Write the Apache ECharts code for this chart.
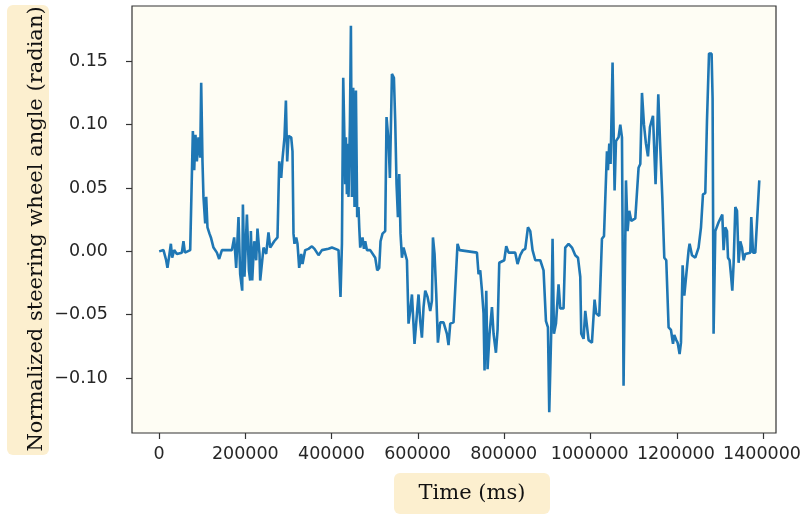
<!DOCTYPE html>
<html>
<head>
<meta charset="utf-8">
<script src="https://cdn.jsdelivr.net/npm/echarts@6/dist/echarts.min.js"></script>
<style>
html,body{margin:0;padding:0;background:#fff;}
#chart{width:804px;height:514px;}
</style>
</head>
<body>
<div id="chart"></div>
<script>
// ---- data ----
const timeMs = [
  0, 10000, 16200, 19200, 23900, 27100, 30100, 34800, 41000, 52600,
  56300, 59600, 71900, 78100, 81200, 84200, 87400, 91100, 95100, 97400,
  100400, 102700, 106700, 109000, 112000, 116600, 119900, 125900, 133800, 139100,
  145400, 168600, 173900, 178500, 183900, 187800, 192500, 194100, 197800, 203400,
  208000, 211000, 212600, 215700, 220300, 224900, 227900, 232600, 234200, 241900,
  248100, 253400, 257400, 266700, 274300,
  278300, 282900, 285900, 290500, 293800, 296800, 299800, 306100, 309100, 311400,
  313700, 317700, 320700, 324600, 329300, 332300, 338500, 346200, 354100, 360100,
  369400, 377300, 392600, 400500, 415800, 420400, 423700, 426700, 429700, 431300,
  432900, 435200, 437600, 439000, 442200, 444500, 446800, 449800, 452900, 456100,
  459100, 462100, 463800, 466100, 471400, 474700, 477700, 481600, 489300, 500900,
  505500, 510100, 513200, 517800, 524000, 527100, 531700, 534900, 539600, 544200,
  547200, 550300, 553500, 556500, 559500, 562800,
  566500, 570400, 574400, 578100, 582000, 586000, 592000, 597600, 601300, 605200,
  609100, 612900, 616800, 622200, 628400, 632300, 634700, 638400, 642300, 646200,
  651600, 659200, 667100, 670800, 674800, 682400, 686400, 691700, 696300, 736700,
  740400, 744300, 748300, 752000, 754300, 758300, 761300, 765900, 771500, 775200,
  780700, 784500, 788400, 800000, 804600, 810000, 825500, 830800, 837100, 843300,
  848700, 854900, 860300, 865600, 871900, 883500, 891100, 896700, 901300, 904300,
  909000, 912000, 915200, 919900, 925900, 929800, 937500, 941400, 949100, 957000,
  964600, 970900, 976200, 978500, 983900, 987800, 995500, 1003300, 1009400, 1013300,
  1020300, 1026500, 1031200, 1038100, 1040400, 1043500, 1046500, 1051100, 1055800, 1059000,
  1065000, 1069000, 1072900, 1076600, 1082200, 1085900, 1089800, 1094500, 1103800, 1111400,
  1115400, 1119300, 1123900, 1128500, 1133200, 1137800, 1144800, 1149400, 1150800, 1154100,
  1157100, 1161700, 1166400, 1171000, 1175600, 1181000, 1186500, 1191200, 1194200, 1198800,
  1201900, 1206500, 1209700, 1213500, 1217400, 1222000, 1227400, 1229700, 1235200, 1242900,
  1250500, 1256100, 1260700, 1266100, 1270000, 1274700, 1280700, 1283000, 1285300, 1289300,
  1293200, 1296900, 1300900, 1305500, 1308500, 1312400, 1316400, 1318700, 1322400, 1325700,
  1328700, 1331700, 1335700, 1339600, 1343300, 1347200, 1351200, 1354900, 1358800, 1370400,
  1372700, 1376700, 1382000, 1391300
];
const steeringAngle = [
  0.000, 0.001, -0.007, -0.013, -0.002, 0.006, -0.005, 0.001, -0.002, -0.001,
  0.008, -0.001, 0.001, 0.095, 0.064, 0.092, 0.071, 0.090, 0.074, 0.133,
  0.071, 0.043, 0.022, 0.043, 0.019, 0.014, 0.011, 0.003, -0.001, -0.006,
  0.001, 0.001, 0.011, -0.013, 0.027, -0.018, -0.031, 0.037, -0.020, 0.029,
  -0.015, -0.023, 0.016, -0.023, 0.008, -0.007, 0.018, -0.002, -0.023, 0.003,
  -0.002, 0.015, 0.003, 0.008, 0.011,
  0.071, 0.058, 0.073, 0.090, 0.119, 0.071, 0.091, 0.090, 0.079, 0.014,
  0.006, 0.011, 0.006, -0.013, -0.002, -0.010, 0.001, 0.002, 0.004, 0.002,
  -0.003, 0.001, 0.002, 0.003, 0.001, -0.036, 0.006, 0.137, 0.085, 0.053,
  0.090, 0.045, 0.085, 0.043, 0.100, 0.178, 0.043, 0.129, 0.035, 0.127,
  0.027, 0.035, 0.019, 0.003, 0.011, 0.002, 0.008, 0.001, 0.001, -0.005,
  -0.015, -0.013, 0.008, 0.014, 0.016, 0.106, 0.087, 0.058, 0.140, 0.137,
  0.103, 0.053, 0.027, 0.061, 0.014, -0.005,
  0.003, 0.004, -0.007, -0.057, -0.047, -0.034, -0.073, -0.049, -0.034, -0.055,
  -0.068, -0.044, -0.031, -0.036, -0.047, -0.039, 0.011, -0.002, -0.033, -0.072,
  -0.056, -0.056, -0.065, -0.074, -0.057, -0.056, -0.055, 0.006, 0.001, -0.001,
  -0.018, -0.015, -0.031, -0.049, -0.094, -0.031, -0.093, -0.065, -0.044, -0.065,
  -0.080, -0.062, -0.009, -0.007, 0.004, -0.001, -0.001, -0.010, -0.003, 0.001,
  0.002, 0.019, 0.016, 0.001, -0.007, -0.007, -0.015, -0.055, -0.060, -0.127,
  -0.062, 0.010, -0.065, -0.057, -0.026, -0.045, -0.045, 0.003, 0.006, 0.003,
  -0.003, -0.005, -0.020, -0.065, -0.069, -0.047, -0.070, -0.072, -0.038, -0.049,
  -0.051, 0.010, 0.012, 0.079, 0.064, 0.085, 0.069, 0.149, 0.048, 0.087,
  0.090, 0.100, 0.090, -0.106, 0.056, 0.016, 0.032, 0.024, 0.026, 0.066,
  0.069, 0.125, 0.100, 0.085, 0.075, 0.098, 0.107, 0.106, 0.053, 0.087,
  0.124, 0.082, 0.043, -0.005, -0.007, -0.060, -0.062, -0.073, -0.066, -0.070,
  -0.072, -0.081, -0.072, -0.011, -0.035, -0.035, 0.001, 0.006, -0.003, -0.005,
  0.003, 0.019, 0.045, 0.046, 0.103, 0.156, 0.156, 0.121, -0.065, 0.016,
  0.016, 0.023, 0.024, 0.029, 0.001, 0.019, 0.016, -0.005, -0.007, -0.019,
  -0.031, -0.010, 0.035, 0.032, -0.009, 0.008, 0.003, -0.007, -0.002, -0.001,
  0.027, -0.001, -0.001, 0.056
];
const xTicks = [0, 200000, 400000, 600000, 800000, 1000000, 1200000, 1400000];
const yTicks = [-0.10, -0.05, 0.00, 0.05, 0.10, 0.15];
const xRange = [-63000, 1430000];
const yRange = [-0.1433, 0.1936];
const yTitle = 'Normalized steering wheel angle (radian)';
const xTitle = 'Time (ms)';

const seriesData = timeMs.map((t, i) => [t, steeringAngle[i]]);

// plot frame (pixels inside the 804x514 canvas)
const CW = 804, CH = 514, TICK = 6;
const G = {left: 132, right: 28, top: 6, bottom: 81};
const W = CW - G.left - G.right, H = CH - G.top - G.bottom;
const xSpan = xRange[1] - xRange[0], ySpan = yRange[1] - yRange[0];
const xLast = xTicks[xTicks.length - 1], yLast = yTicks[yTicks.length - 1];
// helper grid whose extent is exactly the tick range (same scale as the data grid)
const G2 = {
  left: G.left + W * (xTicks[0] - xRange[0]) / xSpan,
  right: G.right + W * (xRange[1] - xLast) / xSpan,
  top: G.top + H * (yRange[1] - yLast) / ySpan,
  bottom: G.bottom + H * (yTicks[0] - yRange[0]) / ySpan
};
// thin bands just outside the frame where tick marks are drawn as split lines
const GX = {left: G2.left, right: G2.right, top: CH - G.bottom, bottom: G.bottom - TICK};
const GY = {left: G.left - TICK, right: CW - G.left, top: G2.top, bottom: G2.bottom};

const chart = echarts.init(document.getElementById('chart'), null, {renderer: 'canvas'});
const labelFont = {fontFamily: 'DejaVu Sans', fontSize: 17.5, color: '#262626'};
const tickLine = {show: true, showMinLine: true, showMaxLine: true, lineStyle: {color: '#333', width: 1.2}};
const hidden = {show: false};

chart.setOption({
  animation: false,
  backgroundColor: '#ffffff',
  grid: [
    Object.assign({show: true, backgroundColor: '#fefdf4', borderColor: '#333', borderWidth: 1.2}, G),
    Object.assign({show: false}, G2),
    Object.assign({show: false}, GX),
    Object.assign({show: false}, GY)
  ],
  xAxis: [
    {type: 'value', gridIndex: 0, min: xRange[0], max: xRange[1], show: false},
    {
      type: 'value', gridIndex: 1, min: xTicks[0], max: xLast, interval: xTicks[1] - xTicks[0],
      position: 'bottom', offset: G2.bottom - G.bottom,
      splitLine: hidden, axisLine: {show: false, onZero: false}, axisTick: hidden,
      axisLabel: Object.assign({margin: 12, formatter: v => String(v)}, labelFont)
    },
    {
      type: 'value', gridIndex: 2, min: xTicks[0], max: xLast, interval: xTicks[1] - xTicks[0],
      axisLine: {show: false, onZero: false}, axisTick: hidden, axisLabel: hidden, splitLine: tickLine
    },
    {type: 'value', gridIndex: 3, min: 0, max: 1, show: false}
  ],
  yAxis: [
    {type: 'value', gridIndex: 0, min: yRange[0], max: yRange[1], show: false},
    {
      type: 'value', gridIndex: 1, min: yTicks[0], max: yLast, interval: yTicks[1] - yTicks[0],
      position: 'left', offset: G2.left - G.left,
      splitLine: hidden, axisLine: {show: false, onZero: false}, axisTick: hidden,
      axisLabel: Object.assign({margin: 24,
        formatter: v => (v < -1e-9 ? '\u2212' : '') + Math.abs(v).toFixed(2)}, labelFont)
    },
    {type: 'value', gridIndex: 2, min: 0, max: 1, show: false},
    {
      type: 'value', gridIndex: 3, min: yTicks[0], max: yLast, interval: yTicks[1] - yTicks[0],
      axisLine: {show: false, onZero: false}, axisTick: hidden, axisLabel: hidden, splitLine: tickLine
    }
  ],
  series: [{
    type: 'line', xAxisIndex: 0, yAxisIndex: 0, data: seriesData,
    showSymbol: false, symbol: 'none',
    lineStyle: {color: '#1f77b4', width: 2.6}, itemStyle: {color: '#1f77b4'}
  }],
  graphic: [
    {type: 'rect', left: 7, top: 5, shape: {width: 42, height: 450, r: 6}, style: {fill: '#fcefcf'}},
    {type: 'text', x: 37, y: 229, rotation: Math.PI / 2,
      style: {text: yTitle, font: '21px "DejaVu Serif"', fill: '#111', align: 'center', verticalAlign: 'middle'}},
    {type: 'rect', left: 394, top: 473, shape: {width: 156, height: 41, r: 6}, style: {fill: '#fcefcf'}},
    {type: 'text', x: 472, y: 494,
      style: {text: xTitle, font: '21px "DejaVu Serif"', fill: '#111', align: 'center', verticalAlign: 'middle'}}
  ]
});
</script>
</body>
</html>
